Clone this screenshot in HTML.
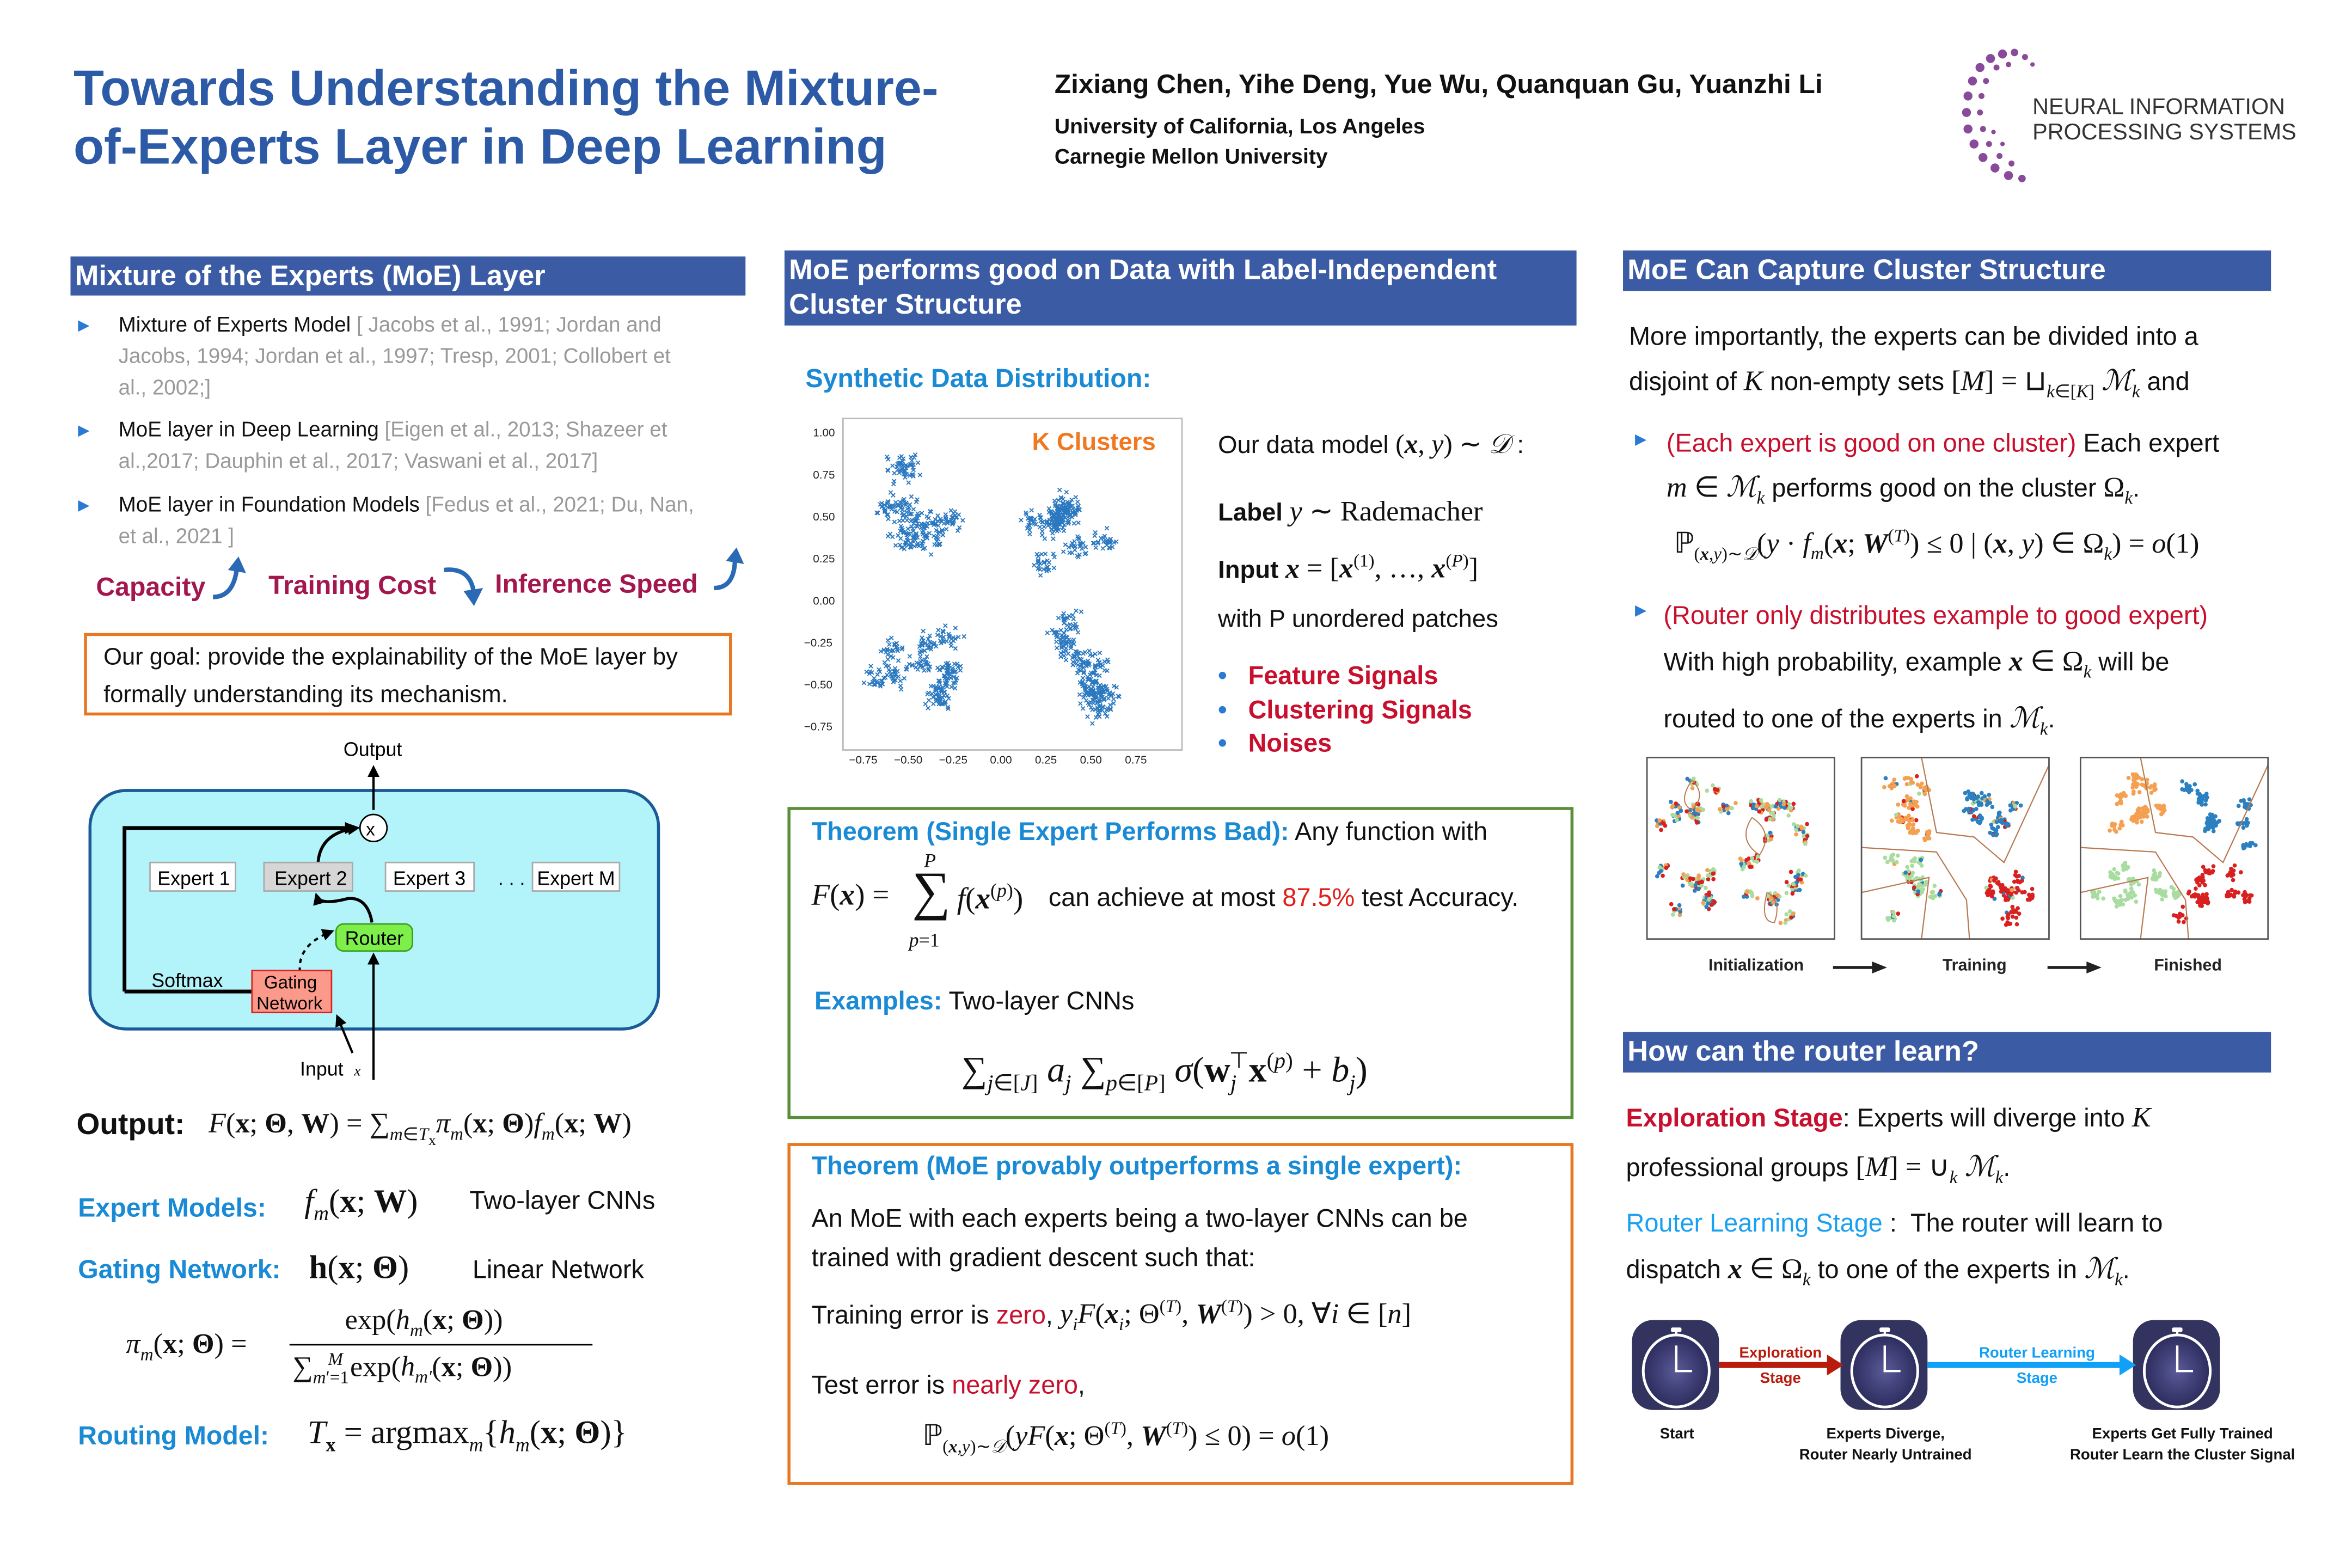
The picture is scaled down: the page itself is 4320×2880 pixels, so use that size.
<!DOCTYPE html>
<html><head><meta charset="utf-8">
<style>
html,body{margin:0;padding:0;background:#fff;}
body{width:4320px;height:2880px;overflow:hidden;position:relative;}
#pg{position:absolute;left:0;top:0;width:1568px;height:1045px;transform:scale(2.7551);transform-origin:0 0;font-family:"Liberation Sans",sans-serif;color:#111;}
.a{position:absolute;white-space:nowrap;}
.hd{position:absolute;background:#3b5ca5;color:#fff;font-weight:bold;font-size:19px;padding-left:3px;box-sizing:border-box;line-height:24px;}
.s{font-family:"Liberation Serif",serif;}
.i{font-style:italic;}
.bl{color:#1a8ad4;font-weight:bold;}
.rd{color:#c8102e;}
.g{color:#999;}
.tri{color:#2a7ad4;font-size:10px;}
</style></head><body><div id="pg">

<div class="a" style="left:49px;top:40px;font-size:33.3px;font-weight:bold;color:#2c5aa6;line-height:39px;">Towards Understanding the Mixture-<br>of-Experts Layer in Deep Learning</div>
<div class="a" style="left:703px;top:46px;font-size:18px;font-weight:bold;">Zixiang Chen, Yihe Deng, Yue Wu, Quanquan Gu, Yuanzhi Li</div>
<div class="a" style="left:703px;top:75px;font-size:14.2px;font-weight:bold;line-height:20px;">University of California, Los Angeles<br>Carnegie Mellon University</div>
<svg class="a" style="left:1305px;top:28px" width="60" height="100" viewBox="0 0 60 100">
<g fill="#8a4a9a">
<circle cx="30" cy="8" r="3"/><circle cx="38" cy="7" r="2.5"/><circle cx="22" cy="11" r="3"/><circle cx="45" cy="10" r="2"/><circle cx="15" cy="17" r="3"/><circle cx="10" cy="26" r="3"/><circle cx="7" cy="36" r="3"/><circle cx="6" cy="47" r="3"/><circle cx="7" cy="58" r="3"/><circle cx="11" cy="68" r="3"/><circle cx="17" cy="77" r="3"/><circle cx="25" cy="84" r="3"/><circle cx="34" cy="89" r="3"/><circle cx="43" cy="91" r="2.5"/><circle cx="26" cy="17" r="2"/><circle cx="19" cy="26" r="2"/><circle cx="16" cy="36" r="2"/><circle cx="15" cy="47" r="2"/><circle cx="17" cy="58" r="2"/><circle cx="21" cy="68" r="2"/><circle cx="28" cy="76" r="2"/><circle cx="36" cy="81" r="2"/><circle cx="34" cy="15" r="1.8"/><circle cx="50" cy="15" r="1.5"/><circle cx="24" cy="60" r="1.5"/><circle cx="30" cy="68" r="1.5"/></g></svg>
<div class="a" style="left:1355px;top:63px;font-size:15px;color:#333;line-height:17px;">NEURAL INFORMATION<br>PROCESSING SYSTEMS</div>

<!-- LEFT -->
<div class="hd" style="left:47px;top:171px;width:450px;height:26px;line-height:27px;">Mixture of the Experts (MoE) Layer</div>
<div class="a tri" style="left:52px;top:212px">&#9654;</div>
<div class="a" style="left:79px;top:206px;font-size:14px;line-height:21px;">Mixture of Experts Model <span class="g">[ Jacobs et al., 1991; Jordan and<br>Jacobs, 1994; Jordan et al., 1997; Tresp, 2001; Collobert et<br>al., 2002;]</span></div>
<div class="a tri" style="left:52px;top:282px">&#9654;</div>
<div class="a" style="left:79px;top:276px;font-size:14px;line-height:21px;">MoE layer in Deep Learning <span class="g">[Eigen et al., 2013; Shazeer et<br>al.,2017; Dauphin et al., 2017; Vaswani et al., 2017]</span></div>
<div class="a tri" style="left:52px;top:332px">&#9654;</div>
<div class="a" style="left:79px;top:326px;font-size:14px;line-height:21px;">MoE layer in Foundation Models <span class="g">[Fedus et al., 2021; Du, Nan,<br>et al., 2021 ]</span></div>

<div class="a" style="left:64px;top:381px;font-size:17.5px;font-weight:bold;color:#a3164e;">Capacity</div>
<div class="a" style="left:179px;top:380px;font-size:17.5px;font-weight:bold;color:#a3164e;">Training Cost</div>
<div class="a" style="left:330px;top:379px;font-size:17.5px;font-weight:bold;color:#a3164e;">Inference Speed</div>
<svg class="a" style="left:138px;top:370px" width="30" height="32"><path d="M4 28 Q18 28 20 8" stroke="#2a6ab4" stroke-width="3" fill="none"/><path d="M14 10 L21 1 L26 12Z" fill="#2a6ab4"/></svg>
<svg class="a" style="left:294px;top:374px" width="30" height="32"><path d="M2 6 Q20 4 22 22" stroke="#2a6ab4" stroke-width="3" fill="none"/><path d="M15 20 L22 30 L28 18Z" fill="#2a6ab4"/></svg>
<svg class="a" style="left:472px;top:364px" width="30" height="32"><path d="M4 28 Q18 28 18 8" stroke="#2a6ab4" stroke-width="3" fill="none"/><path d="M12 10 L19 1 L24 12Z" fill="#2a6ab4"/></svg>

<div class="a" style="left:56px;top:422px;width:432px;height:55px;border:2px solid #e87722;box-sizing:border-box;"></div>
<div class="a" style="left:69px;top:426px;font-size:15.8px;line-height:25px;">Our goal: provide the explainability of the MoE layer by<br>formally understanding its mechanism.</div>

<!-- diagram -->
<svg class="a" style="left:0;top:480px" width="510" height="250" viewBox="0 480 510 250" font-family="Liberation Sans, sans-serif">
<defs><marker id="ar" markerWidth="8" markerHeight="8" refX="6" refY="4" orient="auto" markerUnits="userSpaceOnUse"><path d="M0 0 L8 4 L0 8Z" fill="#000"/></marker></defs>
<rect x="60" y="527" width="379" height="159" rx="24" fill="#b3f3fa" stroke="#1a5a96" stroke-width="2"/>
<text x="229" y="504" font-size="13">Output</text>
<line x1="249" y1="540" x2="249" y2="512" stroke="#000" stroke-width="1.5" marker-end="url(#ar)"/>
<ellipse cx="249" cy="552" rx="9" ry="9" fill="#fff" stroke="#000"/>
<text x="244" y="557" font-size="12">x</text>
<path d="M83 661 L83 552 L236 552" stroke="#000" stroke-width="2.5" fill="none" marker-end="url(#ar)"/>
<path d="M83 661 L172 661" stroke="#000" stroke-width="2.5" fill="none"/>
<path d="M212 576 Q213 555 238 552" stroke="#000" stroke-width="2" fill="none" marker-end="url(#ar)"/>
<rect x="100" y="575" width="57" height="19" fill="#fff" stroke="#aaa"/><text x="105" y="590" font-size="13">Expert 1</text>
<rect x="176" y="575" width="59" height="19" fill="#d6d6d6" stroke="#aaa"/><text x="183" y="590" font-size="13">Expert 2</text>
<rect x="257" y="575" width="59" height="19" fill="#fff" stroke="#aaa"/><text x="262" y="590" font-size="13">Expert 3</text>
<text x="332" y="590" font-size="13">. . .</text>
<rect x="355" y="575" width="58" height="19" fill="#fff" stroke="#aaa"/><text x="358" y="590" font-size="13">Expert M</text>
<path d="M248 615 Q245 598 232 599 Q213 604 211 597" stroke="#000" stroke-width="2" fill="none" marker-end="url(#ar)"/>
<rect x="224" y="616" width="51" height="18" rx="5" fill="#7dee4a" stroke="#3aa020"/><text x="230" y="630" font-size="13">Router</text>
<path d="M200 648 Q198 630 221 621" stroke="#000" stroke-width="1.5" stroke-dasharray="3,3" fill="none" marker-end="url(#ar)"/>
<line x1="249" y1="720" x2="249" y2="637" stroke="#000" stroke-width="1.5" marker-end="url(#ar)"/>
<rect x="168" y="647" width="53" height="28" fill="#fb9a8a" stroke="#e02020"/>
<text x="176" y="659" font-size="12">Gating</text><text x="171" y="673" font-size="12">Network</text>
<text x="101" y="658" font-size="13">Softmax</text>
<line x1="235" y1="702" x2="225" y2="678" stroke="#000" stroke-width="1.5" marker-end="url(#ar)"/>
<text x="200" y="717" font-size="13">Input</text><text x="236" y="717" font-size="10" font-style="italic" font-family="Liberation Serif, serif">x</text>
</svg>

<div class="a" style="left:51px;top:739px;font-size:20px;font-weight:bold;">Output:</div>
<div class="a s" style="left:139px;top:739px;font-size:19px;"><span class="i">F</span>(<b>x</b>; <b>Θ</b>, <b>W</b>) = ∑<sub style="font-size:12px"><span class="i">m</span>∈<span class="i">T</span><sub>x</sub></sub><span class="i">π<sub style="font-size:12px">m</sub></span>(<b>x</b>; <b>Θ</b>)<span class="i">f<sub style="font-size:12px">m</sub></span>(<b>x</b>; <b>W</b>)</div>
<div class="a bl" style="left:52px;top:795px;font-size:17.5px;">Expert Models:</div>
<div class="a s" style="left:203px;top:788px;font-size:22px;"><span class="i">f<sub style="font-size:14px">m</sub></span>(<b>x</b>; <b>W</b>)</div>
<div class="a" style="left:313px;top:791px;font-size:17px;">Two-layer CNNs</div>
<div class="a bl" style="left:52px;top:836px;font-size:17.5px;">Gating Network:</div>
<div class="a s" style="left:206px;top:832px;font-size:22px;"><b>h</b>(<b>x</b>; <b>Θ</b>)</div>
<div class="a" style="left:315px;top:837px;font-size:17px;">Linear Network</div>
<div class="a s" style="left:84px;top:886px;font-size:19px;"><span class="i">π<sub style="font-size:12px">m</sub></span>(<b>x</b>; <b>Θ</b>) =</div>
<div class="a s" style="left:230px;top:870px;font-size:19px;">exp(<span class="i">h<sub style="font-size:12px">m</sub></span>(<b>x</b>; <b>Θ</b>))</div>
<div class="a" style="left:193px;top:896px;width:202px;border-top:1px solid #000;"></div>
<div class="a s" style="left:195px;top:899px;font-size:19px;">∑<sub style="font-size:12px"><span class="i">m</span>′=1</sub><sup style="font-size:12px;margin-left:-14px"><span class="i">M</span></sup> exp(<span class="i">h<sub style="font-size:12px">m′</sub></span>(<b>x</b>; <b>Θ</b>))</div>
<div class="a bl" style="left:52px;top:947px;font-size:17.5px;">Routing Model:</div>
<div class="a s" style="left:205px;top:942px;font-size:22px;"><span class="i">T</span><sub style="font-size:13px"><b>x</b></sub> = argmax<sub style="font-size:13px" class="i">m</sub>{<span class="i">h<sub style="font-size:13px">m</sub></span>(<b>x</b>; <b>Θ</b>)}</div>

<!-- MIDDLE -->
<div class="hd" style="left:523px;top:167px;width:528px;height:50px;line-height:23px;padding-top:2px;">MoE performs good on Data with Label-Independent<br>Cluster Structure</div>
<div class="a bl" style="left:537px;top:242px;font-size:17.5px;">Synthetic Data Distribution:</div>
<svg class="a" style="left:530px;top:276px" width="262" height="236" id="sc" font-family="Liberation Sans, sans-serif">
<rect x="32" y="3" width="226" height="221" fill="#fff" stroke="#bbb"/>
<g font-size="7.5" fill="#222">
<text x="12" y="15">1.00</text><text x="12" y="43">0.75</text><text x="12" y="71">0.50</text><text x="12" y="99">0.25</text><text x="12" y="127">0.00</text><text x="6" y="155">−0.25</text><text x="6" y="183">−0.50</text><text x="6" y="211">−0.75</text>
<text x="36" y="233">−0.75</text><text x="66" y="233">−0.50</text><text x="96" y="233">−0.25</text><text x="130" y="233">0.00</text><text x="160" y="233">0.25</text><text x="190" y="233">0.50</text><text x="220" y="233">0.75</text></g>
<text x="158" y="24" font-size="16.5" font-weight="bold" fill="#f07820">K Clusters</text>
</svg>
<div class="a" style="left:812px;top:286px;font-size:16.5px;">Our data model <span class="s" style="font-size:18px">(<b class="i">x</b>, <span class="i">y</span>) ∼ <span class="i">𝒟</span></span> :</div>
<div class="a" style="left:812px;top:330px;font-size:16.5px;"><b>Label</b> <span class="s" style="font-size:19px"><span class="i">y</span> ∼ Rademacher</span></div>
<div class="a" style="left:812px;top:367px;font-size:16.5px;"><b>Input</b> <b class="s i" style="font-size:19px">x</b> <span class="s" style="font-size:19px">= [<b class="i">x</b><sup style="font-size:12px">(1)</sup>, …, <b class="i">x</b><sup style="font-size:12px">(<span class="i">P</span>)</sup>]</span></div>
<div class="a" style="left:812px;top:404px;font-size:16.5px;">with P unordered patches</div>
<div class="a" style="left:812px;top:440px;font-size:17px;font-weight:bold;line-height:22.5px;"><span style="color:#2a7ad4">•</span>&nbsp;&nbsp;&nbsp;<span class="rd">Feature Signals</span><br><span style="color:#2a7ad4">•</span>&nbsp;&nbsp;&nbsp;<span class="rd">Clustering Signals</span><br><span style="color:#2a7ad4">•</span>&nbsp;&nbsp;&nbsp;<span class="rd">Noises</span></div>

<div class="a" style="left:525px;top:538px;width:524px;height:208px;border:2px solid #5a8f3a;box-sizing:border-box;"></div>
<div class="a" style="left:541px;top:545px;font-size:17px;"><span class="bl">Theorem (Single Expert Performs Bad):</span> Any function with</div>
<div class="a s" style="left:541px;top:586px;font-size:20px;"><span class="i">F</span>(<b class="i">x</b>) =</div>
<div class="a s" style="left:616px;top:566px;font-size:13px;"><i>P</i></div>
<div class="a s" style="left:608px;top:574px;font-size:36px;line-height:40px;">∑</div>
<div class="a s" style="left:606px;top:619px;font-size:13px;"><i>p</i>=1</div>
<div class="a s" style="left:638px;top:586px;font-size:20px;"><span class="i">f</span>(<b class="i">x</b><sup style="font-size:13px">(<span class="i">p</span>)</sup>)</div>
<div class="a" style="left:699px;top:589px;font-size:17px;">can achieve at most <span style="color:#e0201a">87.5%</span> test Accuracy.</div>
<div class="a" style="left:543px;top:658px;font-size:17px;"><span class="bl">Examples:</span> Two-layer CNNs</div>
<div class="a s" style="left:641px;top:698px;font-size:24px;">∑<sub style="font-size:15px"><span class="i">j</span>∈[<span class="i">J</span>]</sub> <span class="i">a<sub style="font-size:15px">j</sub></span> ∑<sub style="font-size:15px"><span class="i">p</span>∈[<span class="i">P</span>]</sub> <span class="i">σ</span>(<b>w</b><sub style="font-size:15px" class="i">j</sub><sup style="font-size:15px;margin-left:-5px">⊤</sup><b>x</b><sup style="font-size:15px">(<span class="i">p</span>)</sup> + <span class="i">b<sub style="font-size:15px">j</sub></span>)</div>

<div class="a" style="left:525px;top:762px;width:524px;height:228px;border:2px solid #e87722;box-sizing:border-box;"></div>
<div class="a bl" style="left:541px;top:768px;font-size:17px;">Theorem (MoE provably outperforms a single expert):</div>
<div class="a" style="left:541px;top:800px;font-size:17px;line-height:26px;">An MoE with each experts being a two-layer CNNs can be<br>trained with gradient descent such that:</div>
<div class="a" style="left:541px;top:864px;font-size:17px;">Training error is <span class="rd">zero</span>, <span class="s" style="font-size:19px"><span class="i">y<sub style="font-size:12px">i</sub>F</span>(<b class="i">x</b><sub style="font-size:12px" class="i">i</sub>; Θ<sup style="font-size:12px">(<span class="i">T</span>)</sup>, <b class="i">W</b><sup style="font-size:12px">(<span class="i">T</span>)</sup>) &gt; 0, ∀<span class="i">i</span> ∈ [<span class="i">n</span>]</span></div>
<div class="a" style="left:541px;top:914px;font-size:17px;">Test error is <span class="rd">nearly zero</span>,</div>
<div class="a s" style="left:615px;top:945px;font-size:19px;">ℙ<sub style="font-size:12px">(<b class="i">x</b>,<span class="i">y</span>)∼<span class="i">𝒟</span></sub>(<span class="i">yF</span>(<b class="i">x</b>; Θ<sup style="font-size:12px">(<span class="i">T</span>)</sup>, <b class="i">W</b><sup style="font-size:12px">(<span class="i">T</span>)</sup>) ≤ 0) = <span class="i">o</span>(1)</div>

<!-- RIGHT -->
<div class="hd" style="left:1082px;top:167px;width:432px;height:27px;line-height:28px;">MoE Can Capture Cluster Structure</div>
<div class="a" style="left:1086px;top:210px;font-size:17px;line-height:30px;">More importantly, the experts can be divided into a<br>disjoint of <span class="s i" style="font-size:19px">K</span> non-empty sets <span class="s" style="font-size:19px">[<span class="i">M</span>] = ⊔<sub style="font-size:12px"><span class="i">k</span>∈[<span class="i">K</span>]</sub> <span class="i">ℳ<sub style="font-size:12px">k</sub></span></span> and</div>
<div class="a tri" style="left:1090px;top:288px">&#9654;</div>
<div class="a" style="left:1111px;top:281px;font-size:17px;line-height:30px;"><span class="rd">(Each expert is good on one cluster)</span> Each expert<br><span class="s" style="font-size:19px"><span class="i">m</span> ∈ <span class="i">ℳ<sub style="font-size:12px">k</sub></span></span> performs good on the cluster <span class="s" style="font-size:19px">Ω<sub style="font-size:12px" class="i">k</sub></span>.</div>
<div class="a s" style="left:1116px;top:350px;font-size:19px;">ℙ<sub style="font-size:12px">(<b class="i">x</b>,<span class="i">y</span>)∼<span class="i">𝒟</span></sub>(<span class="i">y</span> · <span class="i">f<sub style="font-size:12px">m</sub></span>(<b class="i">x</b>; <b class="i">W</b><sup style="font-size:12px">(<span class="i">T</span>)</sup>) ≤ 0 | (<b class="i">x</b>, <span class="i">y</span>) ∈ Ω<sub style="font-size:12px" class="i">k</sub>) = <span class="i">o</span>(1)</div>
<div class="a tri" style="left:1090px;top:402px">&#9654;</div>
<div class="a" style="left:1109px;top:395px;font-size:17px;line-height:31px;"><span class="rd">(Router only distributes example to good expert)</span><br>With high probability, example <span class="s" style="font-size:19px"><b class="i">x</b> ∈ Ω<sub style="font-size:12px" class="i">k</sub></span> will be<br>routed to one of the experts in <span class="s i" style="font-size:19px">ℳ<sub style="font-size:12px">k</sub></span>.</div>

<svg class="a" style="left:1082px;top:500px" width="440" height="160" id="cl" font-family="Liberation Sans, sans-serif">
<g fill="none" stroke="#555" stroke-width="1">
<rect x="16" y="5" width="125" height="121"/><rect x="159" y="5" width="125" height="121"/><rect x="305" y="5" width="125" height="121"/></g>
<g font-size="11" font-weight="bold" fill="#222"><text x="57" y="147">Initialization</text><text x="213" y="147">Training</text><text x="354" y="147">Finished</text></g>
<g stroke="#222" stroke-width="2"><line x1="140" y1="145" x2="168" y2="145"/><line x1="283" y1="145" x2="311" y2="145"/></g>
<path d="M166 141 L176 145 L166 149Z M309 141 L319 145 L309 149Z" fill="#222"/>
</svg>

<div class="hd" style="left:1082px;top:688px;width:432px;height:27px;line-height:28px;">How can the router learn?</div>
<div class="a" style="left:1084px;top:729px;font-size:17px;line-height:33px;"><b style="color:#c8102e">Exploration Stage</b>: Experts will diverge into <span class="s i" style="font-size:19px">K</span><br>professional groups <span class="s" style="font-size:19px">[<span class="i">M</span>] = ∪<sub style="font-size:12px" class="i">k</sub> <span class="i">ℳ<sub style="font-size:12px">k</sub></span></span>.</div>
<div class="a" style="left:1084px;top:800px;font-size:17px;line-height:31px;"><span style="color:#1aa0f0">Router Learning Stage</span>&nbsp;:&nbsp; The router will learn to<br>dispatch <span class="s" style="font-size:19px"><b class="i">x</b> ∈ Ω<sub style="font-size:12px" class="i">k</sub></span> to one of the experts in <span class="s i" style="font-size:19px">ℳ<sub style="font-size:12px">k</sub></span>.</div>

<svg class="a" style="left:1080px;top:870px" width="470" height="110" font-family="Liberation Sans, sans-serif">
<defs><radialGradient id="rg"><stop offset="0" stop-color="#5a5a98"/><stop offset="1" stop-color="#2c2c5e"/></radialGradient>
<g id="clk"><rect x="0" y="0" width="58" height="60" rx="14" fill="#33335f"/>
<rect x="26" y="5" width="7" height="3" rx="1" fill="#fff"/><line x1="29.5" y1="8" x2="29.5" y2="12" stroke="#fff" stroke-width="1.5"/>
<ellipse cx="29.5" cy="34" rx="22" ry="24" fill="url(#rg)" stroke="#fff" stroke-width="1.8"/>
<path d="M29.5 17 V34 H40" stroke="#fff" stroke-width="1.6" fill="none"/></g></defs>
<use href="#clk" x="8" y="10"/><use href="#clk" x="147" y="10"/><use href="#clk" x="342" y="10"/>
<line x1="66" y1="40" x2="140" y2="40" stroke="#b81c0c" stroke-width="4"/><path d="M138 33 L149 40 L138 47Z" fill="#b81c0c"/>
<line x1="205" y1="40" x2="334" y2="40" stroke="#10a0f8" stroke-width="4"/><path d="M333 33 L344 40 L333 47Z" fill="#10a0f8"/>
<g font-size="10" font-weight="bold" text-anchor="middle">
<text x="107" y="35" fill="#b81c0c">Exploration</text><text x="107" y="52" fill="#b81c0c">Stage</text>
<text x="278" y="35" fill="#10a0f8">Router Learning</text><text x="278" y="52" fill="#10a0f8">Stage</text>
<text x="38" y="89" fill="#111">Start</text>
<text x="177" y="89" fill="#111">Experts Diverge,</text><text x="177" y="103" fill="#111">Router Nearly Untrained</text>
<text x="375" y="89" fill="#111">Experts Get Fully Trained</text><text x="375" y="103" fill="#111">Router Learn the Cluster Signal</text></g>
</svg>

</div>
<script>
(function(){
var s=7,rnd=function(){s=(s*16807)%2147483647;return s/2147483647;};
function g(){return (rnd()+rnd()+rnd()-1.5)/1.5;}
var sc=document.getElementById('sc');
function px(v){return 32+(v+0.9)/1.85*226;} function py(v){return 3+(1.05-v)/1.9*221;}
var cs=[[-0.5,0.55],[0.32,0.45],[-0.45,-0.3],[0.42,-0.35]];
var out='';
cs.forEach(function(c){for(var k=0;k<10;k++){var cx=c[0]+g()*0.4,cy=c[1]+g()*0.4;for(var j=0;j<26;j++){var x=px(cx+g()*0.1),y=py(cy+g()*0.1);out+='<path d="M'+(x-1.3)+' '+(y-1.3)+'l2.6 2.6M'+(x-1.3)+' '+(y+1.3)+'l2.6 -2.6" stroke="#2a78c0" stroke-width="0.7"/>';}}});
sc.insertAdjacentHTML('beforeend',out);
var cl=document.getElementById('cl');out='';
var cols=['#f5a050','#2a80c0','#a8dca0','#d82020'];
var q=[[0.27,0.27],[0.7,0.33],[0.27,0.72],[0.72,0.72]];
for(var p=0;p<3;p++){var ox=[16,159,305][p];
for(var c=0;c<4;c++){for(var k=0;k<9;k++){var cx=q[c][0]+g()*0.28,cy=q[c][1]+g()*0.26;for(var j=0;j<12;j++){var x=ox+(cx+g()*0.05)*125,y=5+(cy+g()*0.05)*121;var col=p==0?cols[Math.floor(rnd()*4)]:(p==1&&rnd()<0.25?cols[Math.floor(rnd()*4)]:cols[c]);out+='<circle cx="'+x.toFixed(1)+'" cy="'+y.toFixed(1)+'" r="1.4" fill="'+col+'"/>';}}}
if(p>0){out+='<path d="M'+(ox)+' '+(5+60)+' L'+(ox+50)+' 68 L'+(ox+70)+' 100 L'+(ox+72)+' 126 M'+(ox+40)+' 5 L'+(ox+50)+' 55 L'+(ox+75)+' 58 L'+(ox+95)+' 75 L'+(ox+125)+' 10 M'+(ox)+' 95 L'+(ox+45)+' 85 L'+(ox+40)+' 126" stroke="#b87850" stroke-width="0.8" fill="none"/>';}
else{out+='<path d="M'+(ox+30)+' 20 q10 10 0 20 q-10 -5 0 -20 M'+(ox+70)+' 45 q15 10 5 25 q-15 -10 -5 -25 M'+(ox+80)+' 95 q10 5 5 20 q-10 0 -5 -20" stroke="#b87850" stroke-width="0.7" fill="none"/>';}
}
cl.insertAdjacentHTML('afterbegin',out);
})();
</script>
</body></html>
